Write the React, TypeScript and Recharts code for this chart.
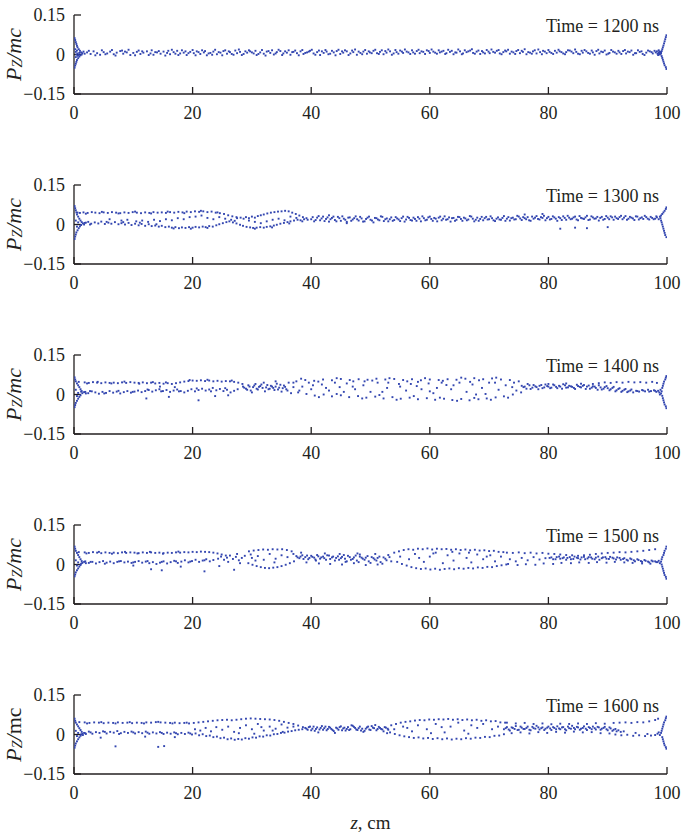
import React from 'react';
import { ScatterChart, Scatter, XAxis, YAxis, Label } from 'recharts';

type Pt = [number, number];

const Z_TICKS = [0, 20, 40, 60, 80, 100];
const P_TICKS = [-0.15, 0, 0.15];
const TIMES = ['1200', '1300', '1400', '1500', '1600'];

// particles, [z (cm), Pz/mc]
const t1200: Pt[] = [
  [0.1, .062], [0.2, .055], [0.3, .047], [0.4, .04], [0.5, .033], [0.6, .027], [0.8, .02], [1, .014], [0.1, -.05], [0.2, -.042], [0.3, -.035], [0.4, -.028], [0.5, -.021], [0.7, -.014], [0.9, -.008], [1.1, -.003], [0.3, .01], [0.6, .004], [1.2, .008], [1.4, .005], [1.6, .011], [1.3, 0], [0.8, -.002], [1.8, .003], [0.2, .02], [0.3, -.01], [0.5, .015], [0.4, 0], [0.6, -.005], [0.9, .006],
  [2.2, .008], [2.8, .002], [3.3, .012], [3.9, .005], [4.4, -.001], [5, .009], [5.6, .004], [6.1, .011], [6.7, .001], [7.2, .007], [7.8, .013], [8.3, .003], [8.9, .008], [9.5, -.002], [10, .006], [10.6, .01], [11.2, .002], [11.7, .007], [12.3, .012], [12.9, .004], [13.4, -.001], [14, .008], [14.6, .003], [15.1, .011], [15.7, .006], [16.2, .001], [16.8, .009], [17.4, .014], [17.9, .004], [18.5, .007], [19, -.002], [19.6, .01],
  [20.2, .005], [20.7, .012], [21.3, .002], [21.9, .008], [22.4, -.003], [23, .006], [23.5, .011], [24.1, .001], [24.7, .007], [25.2, .013], [25.8, .003], [26.3, .009], [26.9, -.001], [27.5, .005], [28, .01], [28.6, .002], [29.2, .007], [29.7, .012], [30.3, .004], [30.8, -.002], [31.4, .008], [32, .003], [32.5, .011], [33.1, .006], [33.7, 0], [34.2, .009], [34.8, .013], [35.3, .004], [35.9, .007], [36.5, -.001], [37, .01], [37.6, .005], [38.2, .012], [38.7, .002], [39.3, .008], [39.8, .014],
  [40.4, .004], [41, .009], [41.5, -.002], [42.1, .006], [42.6, .011], [43.2, .003], [43.8, .008], [44.3, .013], [44.9, .002], [45.4, .007], [46, .012], [46.6, .004], [47.1, .009], [47.7, -.001], [48.3, .006], [48.8, .011], [49.4, .003], [49.9, .008], [50.5, .014], [51.1, .005], [51.6, .01], [52.2, .001], [52.7, .007], [53.3, .012], [53.9, .004], [54.4, .009], [55, .015], [55.5, .006], [56.1, .011], [56.7, .002], [57.2, .008], [57.8, .013], [58.3, .005], [58.9, .01], [59.5, .016],
  [60, .006], [60.6, .011], [61.2, .003], [61.7, .008], [62.3, .014], [62.8, .005], [63.4, .01], [64, .001], [64.5, .007], [65.1, .012], [65.6, .004], [66.2, .009], [66.8, .015], [67.3, .006], [67.9, .011], [68.5, .002], [69, .008], [69.6, .017], [70.1, .005], [70.7, .01], [71.3, .014], [71.8, .004], [72.4, .009], [72.9, .012], [73.5, .003], [74.1, .008], [74.6, .013], [75.2, .005], [75.7, .01], [76.3, .001], [76.9, .007], [77.4, .012], [78, .004], [78.6, .009], [79.1, .014], [79.7, .005],
  [80.2, .01], [80.8, .002], [81.4, .007], [81.9, .012], [82.5, .004], [83, .009], [83.6, .015], [84.2, .005], [84.7, .01], [85.3, .001], [85.8, .007], [86.4, .012], [87, .003], [87.5, .008], [88.1, .013], [88.6, .004], [89.2, .009], [89.8, 0], [90.3, .006], [90.9, .011], [91.5, .003], [92, .008], [92.6, .013], [93.1, .004], [93.7, .009], [94.3, -.001], [94.8, .005], [95.4, .01], [95.9, .002], [96.5, .007], [97.1, .012], [97.6, .004], [98.1, .008],
  [98.4, .003], [98.6, .006], [98.8, 0], [98.9, .009], [99, .004], [99.1, .013], [99.2, .02], [99.3, .027], [99.4, .034], [99.5, .042], [99.6, .05], [99.7, .058], [99.8, .066], [99.9, .073], [99.1, -.006], [99.2, -.013], [99.3, -.02], [99.4, -.027], [99.5, -.034], [99.6, -.041], [99.8, -.048], [99.9, -.055], [98.7, .011], [98.5, -.002],
];
const t1200more: Pt[] = [
  [2.5, .014], [3.6, -.003], [4.7, .016], [5.3, .001], [6.4, .017], [7, -.004], [8.1, .015], [8.6, .011], [9.2, .018], [10.3, -.003], [10.9, .015], [11.5, .012], [12.6, -.002], [13.1, .016], [13.7, .009], [14.3, .013], [15.4, -.004], [15.9, .014], [16.5, .018], [17.1, .003], [17.6, -.002], [18.2, .016], [18.8, .012], [19.3, .005],
  [20, .017], [20.5, -.003], [21, .009], [21.6, .016], [22.1, .013], [22.7, .004], [23.3, -.001], [23.8, .018], [24.4, .009], [25, -.003], [25.5, .016], [26.1, .012], [26.6, .002], [27.2, .015], [27.8, .019], [28.3, -.002], [28.9, .012], [29.5, .016], [30, .008], [30.6, .014], [31.1, .002], [31.7, .017], [32.3, -.004], [32.8, .013], [33.4, .016], [34, .004], [34.5, .018], [35.1, -.002], [35.6, .012], [36.2, .016], [36.8, .009], [37.3, .015], [37.9, -.003], [38.5, .017], [39, .006], [39.6, .011],
  [40.1, .018], [40.7, -.001], [41.3, .015], [41.8, .012], [42.4, .017], [42.9, .001], [43.5, .014], [44.1, -.003], [44.6, .018], [45.2, .012], [45.7, .016], [46.3, -.002], [46.9, .015], [47.4, .019], [48, .011], [48.6, .001], [49.1, .017], [49.7, .012], [50.2, .005], [50.8, .018], [51.4, .002], [51.9, .016], [52.5, .013], [53, .019], [53.6, -.001], [54.2, .017], [54.7, .003], [55.3, .011], [55.8, .019], [56.4, .008], [57, .016], [57.5, .003], [58.1, .018], [58.6, .012], [59.2, .002], [59.8, .013],
  [60.3, .019], [60.9, .007], [61.5, .016], [62, .011], [62.6, .002], [63.1, .018], [63.7, .014], [64.3, .008], [64.8, .019], [65.4, .001], [65.9, .016], [66.5, .012], [67.1, .02], [67.6, .003], [68.2, .015], [68.8, .013], [69.3, .004], [69.9, .011], [70.4, .019], [71, .007], [71.6, .017], [72.1, .001], [72.7, .015], [73.2, .018], [73.8, .011], [74.4, .002], [74.9, .017], [75.5, .014], [76, .02], [76.6, .009], [77.2, .003], [77.7, .016], [78.3, .019], [78.9, .001], [79.4, .011],
  [80, .017], [80.5, .006], [81.1, .014], [81.7, .018], [82.2, .009], [82.8, .001], [83.3, .016], [83.9, .011], [84.5, .019], [85, .003], [85.6, .014], [86.1, .017], [86.7, .006], [87.3, .015], [87.8, -.001], [88.4, .018], [88.9, .011], [89.5, .015], [90.1, .003], [90.6, .017], [91.2, .008], [91.8, .014], [92.3, .002], [92.9, .017], [93.4, .011], [94, .015], [94.6, .005], [95.1, .016], [95.7, .012], [96.2, -.002], [96.8, .015], [97.4, .009], [97.9, .014], [98.3, .012], [98.6, .016], [98.9, .004], [99, .009], [98.8, .007], [98.7, .002],
];

const t1300: Pt[] = [
  [0.1, .07], [0.2, .062], [0.3, .054], [0.4, .046], [0.5, .038], [0.7, .03], [0.9, .022], [1.1, .015], [1.3, .009], [0.1, -.055], [0.2, -.046], [0.3, -.038], [0.4, -.03], [0.6, -.022], [0.8, -.014], [1, -.007], [1.2, -.002], [1.5, .004], [1.7, 0], [2, .007], [0.6, .045], [1, .044], [0.3, .015], [0.5, -.008], [0.7, .008],
  [1.6, .046], [2.3, .044], [3, .047], [3.6, .045], [4.3, .043], [5, .046], [5.7, .044], [6.4, .047], [7.1, .045], [7.8, .043], [8.5, .046], [9.2, .044], [9.9, .047], [10.6, .045], [11.3, .043], [12, .046], [12.7, .044], [13.4, .047], [14.1, .045], [14.8, .046], [15.5, .044], [16.2, .047], [16.9, .045], [17.6, .048], [18.3, .046], [19, .049], [19.7, .047], [20.4, .05], [21.1, .048], [21.8, .05], [22.5, .047], [23.2, .049], [23.9, .045], [24.6, .043], [25.3, .04], [26, .035], [26.7, .031], [27.4, .028], [28.1, .026],
  [28.6, .022], [29, .028], [29.5, .024], [30, .03], [30.5, .026], [31, .032], [31.5, .035], [32, .038], [32.6, .042], [33.2, .045], [33.8, .047], [34.4, .049], [35, .05], [35.6, .052], [36.2, .05], [36.8, .045], [37.4, .04], [38, .034], [38.6, .028], [39.2, .024],
  [1.8, .006], [2.4, .01], [2.9, .003], [3.5, .008], [4.1, .004], [4.6, .011], [5.2, .002], [5.8, .007], [6.3, .003], [6.9, .009], [7.5, .001], [8, .005], [8.6, 0], [9.2, .006], [9.7, -.002], [10.3, .003], [10.9, -.003], [11.4, .002], [12, -.005], [12.6, .001], [13.1, -.006], [13.7, -.004], [14.3, -.008], [14.8, -.005], [15.4, -.01], [16, -.008], [16.5, -.012], [17.1, -.01], [17.7, -.014], [18.2, -.011], [18.8, -.013], [19.4, -.01], [20, -.012], [20.5, -.009], [21.1, -.011], [21.7, -.008], [22.2, -.01], [22.8, -.006], [23.4, -.008], [24, -.003], [24.5, .001], [25.1, .005], [25.7, .009], [26.2, .012], [26.8, .008], [27.4, .004], [28, -.001], [28.5, -.005], [29.1, -.009], [29.7, -.011], [30.2, -.013], [30.8, -.012], [31.4, -.01], [32, -.012], [32.5, -.009], [33.1, -.007], [33.7, -.004], [34.2, -.001], [34.8, .003], [35.4, .006], [36, .009], [36.5, .012], [37.1, .015], [37.7, .018], [38.2, .016], [38.8, .02], [39.4, .018],
  [10.5, .012], [11.5, .015], [12.5, .01], [13.5, .018], [14.5, .013], [15.5, .02], [16.5, .016], [17.5, .024], [18.5, .02], [19.5, .028], [20.5, .03], [21.5, .034], [22.5, .025], [23.5, .02], [24.5, .028], [25.5, .022], [26.5, .018], [27.5, .024], [29.5, .015], [30.5, .01], [31.5, .005], [32.5, .012], [33.5, .018], [34.5, .022], [35.5, .016], [36.5, .03], [37.5, .025],
  [40, .02], [40.5, .012], [41, .026], [41.5, .016], [42, .03], [42.5, .021], [43, .011], [43.5, .025], [44, .017], [44.5, .029], [45, .014], [45.5, .022], [46, .01], [46.5, .027], [47, .019], [47.5, .031], [48, .015], [48.5, .023], [49, .012], [49.5, .026], [50, .018], [50.5, .008], [51, .024], [51.5, .016], [52, .029], [52.5, .02], [53, .012], [53.5, .027], [54, .017], [54.5, .023], [55, .013], [55.5, .03], [56, .019], [56.5, .025], [57, .015], [57.5, .021], [58, .028], [58.5, .012], [59, .024], [59.5, .018],
  [60, .03], [60.5, .014], [61, .022], [61.5, .026], [62, .016], [62.5, .031], [63, .02], [63.5, .011], [64, .025], [64.5, .018], [65, .028], [65.5, .014], [66, .023], [66.5, .019], [67, .03], [67.5, .012], [68, .026], [68.5, .021], [69, .016], [69.5, .029], [70, .02], [70.5, .024], [71, .013], [71.5, .027], [72, .018], [72.5, .032], [73, .022], [73.5, .015], [74, .026], [74.5, .02], [75, .03], [75.5, .017], [76, .024], [76.5, .028], [77, .014], [77.5, .022], [78, .032], [78.5, .019], [79, .025], [79.5, .016],
  [80, .029], [80.5, .021], [81, .027], [81.5, .014], [82, .024], [82.5, .031], [83, .018], [83.5, .026], [84, .022], [84.5, .03], [85, .016], [85.5, .025], [86, .021], [86.5, .033], [87, .019], [87.5, .027], [88, .023], [88.5, .015], [89, .029], [89.5, .021], [90, .026], [90.5, .031], [91, .018], [91.5, .024], [92, .028], [92.5, .02], [93, .032], [93.5, .022], [94, .026], [94.5, .017], [95, .03], [95.5, .024], [96, .021], [96.5, .028], [97, .019], [97.5, .025], [98, .022],
  [82, -.016], [84.5, -.012], [86.5, -.014], [90, -.01], [76, .038], [79, .04], [46, .005], [43, .035],
  [98.3, .027], [98.6, .02], [98.8, .03], [99, .034], [99.2, .04], [99.4, .046], [99.6, .052], [99.8, .059], [99.9, .065], [99, .015], [99.1, .008], [99.2, 0], [99.3, -.008], [99.4, -.016], [99.5, -.024], [99.6, -.032], [99.7, -.04], [99.9, -.048], [98.9, .024],
];
const t1300more: Pt[] = [
  [2, .041], [4.7, .048], [7.5, .042], [10.3, .049], [13, .042], [15.8, .049], [18.6, .043], [21.4, .052], [24.2, .046], [2.7, 0], [5.5, .01], [8.3, .009], [11.1, .007], [13.9, .001], [16.8, -.015], [19.7, -.016], [22.5, -.013], [27.1, .014], [30.5, -.016], [33.4, -.011], [36.3, .004], [38.5, .012], [6, .02], [8, .015], [9, .018],
  [40.25, .028], [40.75, .017], [41.25, .032], [41.75, .023], [42.25, .013], [42.75, .027], [43.25, .02], [43.75, .03], [44.25, .012], [44.75, .024], [45.25, .031], [45.75, .018], [46.25, .026], [46.75, .014], [47.25, .024], [47.75, .02], [48.25, .029], [48.75, .011], [49.25, .021], [49.75, .03], [50.25, .015], [50.75, .025], [51.25, .019], [51.75, .031], [52.25, .013], [52.75, .023], [53.25, .02], [53.75, .014], [54.25, .028], [54.75, .019], [55.25, .024], [55.75, .011], [56.25, .029], [56.75, .017], [57.25, .026], [57.75, .014], [58.25, .022], [58.75, .031], [59.25, .016], [59.75, .027],
  [60.25, .021], [60.75, .025], [61.25, .012], [61.75, .03], [62.25, .022], [62.75, .018], [63.25, .027], [63.75, .024], [64.25, .014], [64.75, .029], [65.25, .021], [65.75, .026], [66.25, .016], [66.75, .032], [67.25, .022], [67.75, .018], [68.25, .014], [68.75, .029], [69.25, .024], [69.75, .019], [70.25, .031], [70.75, .016], [71.25, .022], [71.75, .019], [72.25, .025], [72.75, .014], [73.25, .028], [73.75, .024], [74.25, .019], [74.75, .033], [75.25, .023], [75.75, .028], [76.25, .02], [76.75, .016], [77.25, .03], [77.75, .026], [78.25, .021], [78.75, .028], [79.25, .033], [79.75, .024],
  [80.25, .019], [80.75, .031], [81.25, .022], [81.75, .028], [82.25, .017], [82.75, .025], [83.25, .033], [83.75, .02], [84.25, .027], [84.75, .019], [85.25, .032], [85.75, .023], [86.25, .027], [86.75, .017], [87.25, .031], [87.75, .022], [88.25, .029], [88.75, .025], [89.25, .018], [89.75, .032], [90.25, .02], [90.75, .027], [91.25, .03], [91.75, .021], [92.25, .033], [92.75, .026], [93.25, .018], [93.75, .029], [94.25, .023], [94.75, .031], [95.25, .019], [95.75, .027], [96.25, .033], [96.75, .022], [97.25, .029], [97.75, .02], [98.2, .031],
];

const t1400: Pt[] = [
  [0.1, .065], [0.2, .057], [0.3, .05], [0.5, .042], [0.7, .035], [0.9, .028], [1.1, .02], [1.3, .013], [0.1, -.048], [0.2, -.04], [0.3, -.032], [0.5, -.024], [0.7, -.016], [0.9, -.009], [1.1, -.003], [1.4, .005], [1.7, .009], [1.2, .011], [2, .004], [0.8, .048], [0.3, .018], [0.5, -.006], [0.7, .006],
  [1.8, .046], [2.5, .044], [3.2, .047], [3.9, .045], [4.6, .043], [5.3, .046], [6, .044], [6.7, .045], [7.4, .043], [8.1, .046], [8.8, .044], [9.5, .047], [10.2, .045], [10.9, .044], [11.6, .046], [12.3, .043], [13, .045], [13.7, .042], [14.4, .044], [15.1, .041], [15.8, .043], [16.5, .04], [17.2, .043], [17.9, .046], [18.6, .049], [19.3, .051], [20, .053], [20.7, .052], [21.4, .054], [22.1, .051], [22.8, .053], [23.5, .05], [24.2, .052], [24.9, .049], [25.6, .051], [26.3, .05], [27, .048], [27.7, .045], [28.4, .04],
  [1.9, .01], [2.4, .005], [3, .012], [3.6, .008], [4.2, .003], [4.8, .01], [5.4, .006], [6, .013], [6.6, .007], [7.2, .011], [7.8, .004], [8.4, .009], [9, .013], [9.6, .007], [10.2, .011], [10.8, .015], [11.4, .009], [12, .013], [12.6, .017], [13.2, .011], [13.8, .016], [14.4, .02], [15, .013], [15.6, .017], [16.2, .01], [16.8, .015], [17.4, .019], [18, .013], [18.6, .008], [19.2, .014], [19.8, .02], [20.4, .012], [21, .017], [21.6, .022], [22.2, .015], [22.8, .019], [23.4, .025], [24, .016], [24.6, .021], [25.2, .013], [25.8, .018], [26.4, .008], [27, .014], [27.6, .02],
  [12.2, -.015], [16, -.009], [21, -.022], [23.8, -.006], [26, -.003], [14.5, .03], [17, .028],
  [28.5, .03], [29, .022], [29.4, .035], [29.8, .015], [30.2, .028], [30.6, .04], [31, .019], [31.4, .032], [31.8, .025], [32.2, .012], [32.6, .036], [33, .022], [33.4, .03], [33.8, .017], [34.2, .041], [34.6, .026], [35, .011], [35.4, .034], [35.8, .02], [36.2, .045], [36.6, .005], [37, .028], [32, .045], [34, .05], [30, .008],
  [37.5, .05], [39, .055], [40.5, .052], [42, .057], [43.5, .054], [45, .059], [46.5, .055], [48, .058], [49.5, .056], [51, .06], [52.5, .057], [54, .059], [55.5, .055], [57, .058], [58.5, .054], [60, .057], [61.5, .055], [63, .058], [64.5, .056], [66, .06], [67.5, .062], [69, .058], [70.5, .061], [72, .057], [73.5, .055], [75, .05], [38.3, .06], [41.2, .049], [44.3, .062], [47.1, .05], [50.3, .053], [53.2, .062], [56.2, .05], [59.2, .062], [62.2, .052], [65.3, .064], [68.3, .054], [71.2, .064], [74.2, .045],
  [37.8, .008], [39.2, .002], [40.6, -.004], [42.1, 0], [43.5, -.007], [45, -.003], [46.4, -.01], [47.9, -.006], [49.3, -.012], [50.8, -.008], [52.2, -.015], [53.7, -.01], [55.1, -.016], [56.6, -.012], [58, -.018], [59.5, -.014], [60.9, -.02], [62.4, -.016], [63.8, -.021], [65.3, -.017], [66.7, -.022], [68.2, -.018], [69.6, -.015], [71.1, -.011], [72.5, -.007], [74, 0], [75.4, .008], [41.3, -.01], [44.3, .002], [48.6, -.015], [51.5, -.002], [54.4, -.02], [57.3, -.006], [61.7, -.012], [64.6, -.024], [67.5, -.013], [70.3, -.02], [73.2, -.012],
  [38.5, .03], [40, .02], [41.8, .038], [43, .015], [44.8, .028], [46, .042], [47.4, .02], [48.8, .035], [50, .01], [51.2, .045], [52.8, .025], [54.8, .04], [56, .015], [57.8, .032], [59.8, .042], [60.6, .005], [62.8, .036], [63.6, .02], [65, .045], [66.2, .01], [67.2, .038], [68.8, .025], [70, .045], [71.6, .018], [72.8, .035], [73.9, .028], [69.4, .002], [58.6, .02], [45.5, .01], [39.6, .045],
  [75.8, .028], [76.3, .022], [76.8, .035], [77.3, .026], [77.8, .031], [78.3, .02], [78.8, .036], [79.3, .027], [79.8, .032], [80.3, .024], [80.8, .038], [81.3, .029], [81.8, .033], [82.3, .022], [82.8, .035], [83.3, .027], [83.8, .031], [84.3, .025], [84.8, .037], [85.3, .029], [85.8, .033], [86.3, .021], [86.8, .034], [87.3, .026], [87.8, .03], [88.3, .018], [88.8, .027], [89.3, .022], [89.8, .032], [90.3, .016], [90.8, .025], [91.3, .012], [91.8, .021], [92.3, .01], [92.8, .018], [93.3, .009], [93.8, .015], [94.3, .008], [94.8, .014], [95.3, .011], [95.8, .017], [96.3, .012], [96.8, .018], [97.3, .013], [97.8, .016], [98.2, .01],
  [87.5, .04], [88.5, .043], [89.5, .046], [90.5, .044], [91.5, .047], [92.5, .045], [93.5, .048], [94.5, .046], [95.5, .047], [96.5, .045], [97.5, .048], [98.3, .044], [80, .04], [83, .042], [85.5, .041],
  [98.5, .014], [98.7, .008], [98.9, .018], [99, .004], [99.1, .012], [99.2, .025], [99.3, .033], [99.4, .041], [99.5, .049], [99.7, .057], [99.8, .064], [99.9, .07], [99.2, -.005], [99.3, -.014], [99.4, -.022], [99.5, -.03], [99.6, -.038], [99.8, -.045], [99.9, -.052], [98.8, 0],
];
const t1400more: Pt[] = [
  [75.5, .033], [76, .03], [76.5, .04], [77, .021], [77.5, .036], [78, .028], [78.5, .033], [79, .024], [79.5, .038], [80, .03], [80.5, .026], [81, .035], [81.5, .024], [82, .03], [82.5, .039], [83, .026], [83.5, .033], [84, .029], [84.5, .021], [85, .032], [85.5, .027], [86, .036], [86.5, .03], [87, .022], [87.5, .031], [88, .025], [88.5, .035], [89, .019], [89.5, .028], [90, .024], [90.5, .02], [91, .029], [91.5, .016], [92, .024], [92.5, .014], [93, .021], [93.5, .012], [94, .019], [95, .013], [96, .015], [97, .011], [98, .014],
  [28.7, .026], [29.2, .018], [29.6, .03], [30.4, .034], [30.8, .022], [31.2, .029], [31.6, .038], [32.4, .027], [32.8, .02], [33.2, .033], [33.6, .025], [34, .03], [34.4, .019], [34.8, .037], [35.2, .024], [35.6, .029], [36, .015],
  [37, .045], [38, .015], [42.5, .025], [44, .045], [47, .03], [49, .05], [53, .045], [56.8, .04], [61.2, .025], [64, .035], [66.8, .048], [71, .045], [58, .048], [74.6, .015], [40.3, .035], [52, .01], [55, .03], [67.8, 0], [60, .012], [62, .045],
  [2.2, .042], [4, .048], [6.3, .042], [8.5, .049], [11, .041], [13.3, .047], [15.5, .046], [2.7, .013], [5.1, .004], [7.5, .014], [9.9, .01], [12.4, .019], [14.7, .012], [17.7, .012], [20.7, .023], [23.1, .012], [25.5, .024], [19.5, .055], [22.5, .056], [26.6, .053],
];

const t1500: Pt[] = [
  [0.1, .068], [0.2, .06], [0.3, .052], [0.5, .044], [0.7, .036], [0.9, .028], [1.1, .02], [1.3, .013], [0.1, -.045], [0.2, -.038], [0.3, -.03], [0.5, -.022], [0.7, -.015], [0.9, -.008], [1.1, -.002], [1.4, .006], [1.7, .01], [1.2, .003], [2, .005], [0.8, .047], [0.3, .016], [0.5, -.004], [0.7, .008],
  [1.8, .046], [2.5, .044], [3.2, .047], [3.9, .045], [4.6, .043], [5.3, .046], [6, .044], [6.7, .045], [7.4, .043], [8.1, .046], [8.8, .044], [9.5, .046], [10.2, .045], [10.9, .043], [11.6, .046], [12.3, .044], [13, .046], [13.7, .044], [14.4, .045], [15.1, .043], [15.8, .045], [16.5, .044], [17.2, .046], [17.9, .045], [18.6, .047], [19.3, .046], [20, .048], [20.7, .047], [21.4, .049], [22.1, .048], [22.8, .047], [23.5, .045], [24.2, .042], [24.9, .038], [25.6, .034],
  [1.9, .012], [2.5, .006], [3.1, .01], [3.7, .004], [4.3, .009], [4.9, .013], [5.5, .007], [6.1, .011], [6.7, .005], [7.3, .01], [7.9, .013], [8.5, .008], [9.1, .011], [9.7, .006], [10.3, .01], [10.9, .013], [11.5, .007], [12.1, .011], [12.7, .005], [13.3, .009], [13.9, .002], [14.5, .007], [15.1, .012], [15.7, .004], [16.3, .009], [16.9, .014], [17.5, .006], [18.1, .011], [18.7, .016], [19.3, .008], [19.9, .013], [20.5, .018], [21.1, .01], [21.7, .015], [22.3, .02], [22.9, .012], [23.5, .017],
  [13, -.018], [14.8, -.022], [18, -.008], [22, -.026], [27, -.02], [10, -.004], [24.5, -.006],
  [24.3, .022], [24.8, .03], [25.3, .018], [25.8, .026], [26.3, .034], [26.8, .021], [27.3, .029], [27.8, .016], [28.3, .025], [28.8, .033], [26, .01], [27.5, .04], [28, .005],
  [29.5, .05], [30.3, .053], [31.1, .055], [31.9, .057], [32.7, .056], [33.5, .058], [34.3, .057], [35.1, .058], [35.9, .055], [36.7, .05], [29.4, .005], [30.1, -.001], [30.8, -.006], [31.5, -.01], [32.2, -.013], [32.9, -.014], [33.6, -.012], [34.3, -.01], [35, -.006], [35.7, -.001], [36.4, .005], [37.1, .012], [30, .025], [31, .032], [32, .018], [33, .04], [34, .022], [35, .035], [36, .028], [37, .04], [30.6, .015], [33.8, .008], [29.8, .038],
  [37.5, .032], [38, .024], [38.5, .035], [39, .028], [39.5, .02], [40, .033], [40.5, .026], [41, .036], [41.5, .022], [42, .03], [42.5, .018], [43, .034], [43.5, .027], [44, .015], [44.5, .031], [45, .024], [45.5, .036], [46, .012], [46.5, .028], [47, .021], [47.5, .034], [48, .009], [48.5, .026], [49, .018], [49.5, .032], [50, .006], [50.5, .024], [51, .015], [51.5, .03], [52, .003], [52.5, .022], [53, .036], [53.5, .012], [54, .045], [39.2, .008], [41.3, .004], [43.2, .002], [45.2, 0], [47.2, .005], [49.2, -.002], [51.2, 0], [38.3, .045], [42.3, .042], [44.8, .04], [47.8, .042], [50.8, .04], [40.8, .015], [45.8, .01], [48.2, .038],
  [54.8, .05], [55.6, .055], [56.4, .058], [57.2, .056], [58, .06], [58.8, .058], [59.6, .061], [60.4, .057], [61.2, .06], [62, .058], [62.8, .059], [63.6, .056], [64.4, .058], [65.2, .055], [66, .057], [66.8, .054], [67.6, .056], [68.4, .053], [69.2, .054], [70, .051], [70.8, .052], [71.6, .048], [72.4, .047],
  [54.5, .01], [55.3, .002], [56.1, -.004], [56.9, -.01], [57.7, -.014], [58.5, -.017], [59.3, -.015], [60.1, -.019], [60.9, -.016], [61.7, -.02], [62.5, -.017], [63.3, -.015], [64.1, -.018], [64.9, -.014], [65.7, -.016], [66.5, -.013], [67.3, -.015], [68.1, -.011], [68.9, -.013], [69.7, -.009], [70.5, -.01], [71.3, -.006], [72.1, -.003], [72.9, 0],
  [55, .03], [56.5, .02], [57.5, .04], [59, .01], [60, .03], [61, .045], [62.2, .005], [63, .035], [64, .015], [65, .042], [66.2, .025], [67, .008], [68, .038], [69, .02], [70.2, .035], [71, .012], [72, .03], [58.2, .025], [60.6, .042], [63.8, .048], [66.6, .045], [69.6, .03],
  [73, .045], [74, .044], [75, .046], [76, .043], [77, .045], [78, .042], [79, .044], [80, .041], [81, .04], [82, .038], [83, .036], [84, .035], [85, .033], [86, .035], [87, .037], [88, .04], [89, .042], [90, .044], [91, .045], [92, .047], [93, .046], [94, .048], [95, .05], [96, .052], [97, .055], [98, .058],
  [73.5, .02], [74.5, .012], [75.5, .025], [76.5, .016], [77.5, .028], [78.5, .019], [79.5, .024], [80.5, .027], [81.2, .02], [81.8, .03], [82.4, .024], [83, .018], [83.6, .028], [84.2, .021], [84.8, .026], [85.4, .019], [86, .029], [86.6, .023], [87.2, .027], [87.8, .02], [88.4, .03], [89, .024], [89.6, .028], [90.2, .021], [90.8, .026], [91.4, .019], [92, .025], [92.6, .021], [93.2, .018], [93.8, .023], [94.4, .016], [95, .02], [95.6, .013], [96.2, .017], [96.8, .011], [97.4, .015], [98, .012],
  [73.2, .002], [74.8, -.002], [76.2, .001], [77.8, -.001], [79.2, .004], [80.8, .002], [82.2, .006], [83.8, .005], [85.2, .008], [86.8, .006], [88.2, .009], [89.8, .007], [91.2, .01], [92.8, .008], [94.2, .006], [95.8, .004], [97.2, .003],
  [98.4, .009], [98.6, .014], [98.8, .005], [99, .011], [99.1, .02], [99.2, .028], [99.4, .036], [99.5, .044], [99.6, .052], [99.8, .06], [99.9, .068], [99.1, 0], [99.2, -.008], [99.3, -.016], [99.4, -.024], [99.5, -.032], [99.6, -.04], [99.8, -.047], [99.9, -.054],
];
const t1500more: Pt[] = [
  [37.7, .027], [38.2, .03], [38.7, .021], [39.3, .034], [39.7, .025], [40.2, .029], [40.7, .019], [41.2, .031], [41.7, .027], [42.2, .024], [42.7, .035], [43.2, .021], [43.7, .03], [44.2, .025], [44.7, .018], [45.2, .029], [45.7, .022], [46.2, .033], [46.7, .018], [47.2, .027], [47.7, .015], [48.2, .03], [48.7, .022], [49.2, .026], [49.7, .012], [50.2, .028], [50.7, .019], [51.2, .025], [51.7, .009], [52.2, .027], [52.7, .016], [53.2, .028],
  [80.2, .025], [80.8, .02], [81.4, .028], [82, .022], [82.6, .027], [83.2, .025], [83.8, .02], [84.4, .03], [85, .024], [85.6, .027], [86.2, .02], [86.8, .028], [87.4, .022], [88, .026], [88.6, .018], [89.2, .027], [89.8, .022], [90.4, .029], [91, .023], [91.6, .027], [92.2, .018], [92.8, .024], [93.4, .015], [94, .02], [94.6, .012], [95.2, .017], [95.8, .01], [96.4, .014], [97, .008], [97.6, .012], [98.2, .009],
  [2.1, .042], [4.2, .048], [6.4, .041], [8.6, .048], [10.7, .042], [12.8, .048], [15, .041], [17.6, .049], [2.8, .01], [5.2, .003], [7.6, .012], [10, .008], [12.4, .013], [14.8, .01], [17.2, .012], [19.6, .011], [22, .016],
];

const t1600: Pt[] = [
  [0.1, .06], [0.2, .052], [0.3, .045], [0.5, .038], [0.7, .031], [0.9, .024], [1.1, .017], [1.3, .01], [0.1, -.05], [0.2, -.042], [0.3, -.034], [0.5, -.026], [0.7, -.018], [0.9, -.011], [1.1, -.005], [1.4, .003], [1.7, .006], [1.2, 0], [2, .002], [0.9, .047], [1.5, -.002], [0.3, .014], [0.5, -.006], [0.7, .006],
  [1.8, .046], [2.6, .044], [3.4, .046], [4.2, .045], [5, .043], [5.8, .045], [6.6, .044], [7.4, .046], [8.2, .044], [9, .045], [9.8, .043], [10.6, .045], [11.4, .044], [12.2, .046], [13, .045], [13.8, .047], [14.6, .046], [15.4, .045], [16.2, .044], [17, .045], [17.8, .043], [18.6, .044], [19.4, .042], [20.2, .044], [21, .046], [21.8, .048], [22.6, .05], [23.4, .052], [24.2, .054], [25, .055], [25.8, .056], [26.6, .054], [27.4, .056], [28.2, .058], [29, .06], [29.8, .061], [30.6, .06], [31.4, .059], [32.2, .058], [33, .057], [33.8, .055], [34.6, .052], [35.4, .048], [36.2, .044], [37, .04], [37.8, .034], [38.6, .028],
  [1.9, .005], [2.5, .011], [3.1, .003], [3.7, .009], [4.3, .006], [4.9, .012], [5.5, .004], [6.1, .01], [6.7, .007], [7.3, .013], [7.9, .005], [8.5, .01], [9.1, .006], [9.7, .011], [10.3, .004], [10.9, .009], [11.5, .005], [12.1, .011], [12.7, .003], [13.3, .008], [13.9, .004], [14.5, .009], [15.1, .002], [15.7, .007], [16.3, .003], [16.9, .008], [17.5, .001], [18.1, .006], [18.7, .002], [19.3, .007], [19.9, 0], [20.5, .004], [21.1, -.003], [21.7, .001], [22.3, -.006], [22.9, -.004], [23.5, -.01], [24.1, -.008], [24.7, -.014], [25.3, -.012], [25.9, -.018], [26.5, -.015], [27.1, -.02], [27.7, -.017], [28.3, -.019], [28.9, -.014], [29.5, -.016], [30.1, -.011], [30.7, -.012], [31.3, -.007], [31.9, -.008], [32.5, -.003], [33.1, -.004], [33.7, .001], [34.3, .002], [34.9, .006], [35.5, .007], [36.1, .011], [36.7, .013], [37.3, .016], [37.9, .018], [38.5, .02],
  [20.4, .02], [21.3, .015], [22.2, .025], [23.1, .012], [24, .028], [25, .018], [26, .03], [27, .01], [28, .025], [29, .035], [30, .02], [31, .04], [32, .015], [33, .03], [34, .022], [35, .038], [36, .026], [37, .03], [27.8, .005], [30.4, .003], [31.6, .028], [33.5, .015], [35.2, .01],
  [7, -.045], [14.2, -.047], [15.2, -.044], [4.5, -.012], [12, -.008], [17, -.01],
  [39, .025], [39.4, .018], [39.8, .03], [40.2, .022], [40.6, .014], [41, .027], [41.4, .019], [41.8, .032], [42.2, .024], [42.6, .016], [43, .029], [43.4, .021], [43.8, .013], [44.2, .026], [44.6, .018], [45, .031], [45.4, .023], [45.8, .015], [46.2, .028], [46.6, .02], [47, .033], [47.4, .025], [47.8, .017], [48.2, .03], [48.6, .022], [49, .014], [49.4, .027], [49.8, .019], [50.2, .032], [50.6, .024], [51, .016], [51.4, .029], [51.8, .021], [52.2, .012], [52.6, .026], [53, .018], [41.2, .008], [44, .006], [46.8, .035], [48.8, .01], [50.8, .036], [52.8, .005],
  [53.5, .035], [54.3, .04], [55.1, .045], [55.9, .048], [56.7, .05], [57.5, .053], [58.3, .055], [59.1, .054], [59.9, .057], [60.7, .056], [61.5, .058], [62.3, .057], [63.1, .059], [63.9, .056], [64.7, .058], [65.5, .055], [66.3, .057], [67.1, .054], [67.9, .056], [68.7, .052], [69.5, .054], [70.3, .05], [71.1, .051], [71.9, .046], [72.7, .045],
  [53.3, .008], [54.1, .002], [54.9, -.003], [55.7, -.007], [56.5, -.01], [57.3, -.013], [58.1, -.011], [58.9, -.015], [59.7, -.013], [60.5, -.017], [61.3, -.014], [62.1, -.018], [62.9, -.015], [63.7, -.019], [64.5, -.016], [65.3, -.018], [66.1, -.014], [66.9, -.016], [67.7, -.012], [68.5, -.013], [69.3, -.009], [70.1, -.01], [70.9, -.005], [71.7, -.004], [72.5, .001],
  [54, .02], [55.5, .03], [57, .012], [58, .035], [59.5, .02], [61, .04], [62.5, .008], [63.5, .03], [64.8, .045], [65.8, .015], [67, .035], [68, .025], [69, .04], [70.5, .02], [71.5, .03], [56.2, .025], [60.2, .005], [66.5, .003], [62, .028],
  [72.5, .02], [73, .028], [73.5, .015], [74, .025], [74.5, .032], [75, .018], [75.5, .026], [76, .021], [76.5, .03], [77, .016], [77.5, .024], [78, .033], [78.5, .019], [79, .027], [79.5, .022], [80, .03], [80.5, .017], [81, .025], [81.5, .031], [82, .02], [82.5, .028], [83, .016], [83.5, .024], [84, .033], [84.5, .02], [85, .027], [85.5, .022], [86, .031], [86.5, .017], [87, .025], [87.5, .03], [88, .019], [88.5, .027], [89, .022], [89.5, .029], [90, .016], [90.5, .023], [91, .018], [91.5, .012],
  [73, .045], [74.5, .042], [76, .044], [77.5, .04], [79, .042], [80.5, .039], [82, .041], [83.5, .04], [85, .042], [86.5, .04], [88, .043], [89.5, .041], [91, .044], [92, .045], [93, .046], [94, .044], [95, .047], [96, .046], [97, .05], [98, .055], [98.5, .06],
  [73.8, .005], [75.3, .008], [76.8, .004], [78.3, .009], [79.8, .006], [81.3, .01], [82.8, .007], [84.3, .011], [85.8, .008], [87.3, .009], [88.8, .005], [90.3, .004], [91.3, 0], [92.3, -.003], [93.3, -.001], [94.3, -.005], [95.3, -.003], [96.3, -.006], [97.3, -.004], [98, -.002], [92.7, .012], [94.7, .006], [96.7, .002],
  [98.4, .003], [98.6, .008], [98.8, -.002], [99, .006], [99.1, .014], [99.2, .022], [99.3, .03], [99.4, .038], [99.5, .046], [99.7, .054], [99.8, .062], [99.9, .068], [99.2, -.01], [99.3, -.018], [99.4, -.026], [99.5, -.034], [99.6, -.041], [99.8, -.048], [99.9, -.054],
];
const t1600more: Pt[] = [
  [39.2, .022], [39.6, .028], [40, .016], [40.4, .03], [40.8, .021], [41.6, .025], [42, .018], [42.4, .03], [42.8, .021], [43.2, .026], [43.6, .017], [44.4, .023], [44.8, .028], [45.2, .016], [45.6, .026], [46, .021], [46.4, .017], [47.2, .029], [47.6, .019], [48, .024], [48.4, .015], [49.2, .022], [49.6, .03], [50, .017], [50.4, .026], [51.2, .021], [51.6, .025], [52, .019], [52.4, .028], [52.9, .022],
  [72.8, .024], [73.3, .019], [73.8, .027], [74.3, .021], [74.8, .017], [75.3, .03], [75.8, .021], [76.3, .025], [76.8, .018], [77.3, .029], [77.8, .022], [78.3, .027], [78.8, .024], [79.3, .017], [79.8, .026], [80.3, .023], [80.8, .028], [81.3, .02], [81.8, .023], [82.3, .027], [82.8, .02], [83.3, .03], [83.8, .022], [84.3, .025], [84.8, .029], [85.3, .018], [85.8, .025], [86.3, .022], [86.8, .028], [87.3, .02], [87.8, .024], [88.3, .029], [88.8, .018], [89.3, .025], [89.8, .02], [90.3, .027], [90.8, .014], [91.3, .021], [91.8, .016], [92.2, .01],
  [2.2, .042], [4.6, .047], [7, .042], [9.4, .047], [11.8, .042], [14.2, .048], [16.6, .042], [19, .045], [2.8, .008], [5.2, .01], [7.6, .002], [10, .008], [12.4, .007], [14.8, .006], [17.2, .005], [19.6, .004],
];

const PANELS: Pt[][] = [
  [...t1200, ...t1200more],
  [...t1300, ...t1300more],
  [...t1400, ...t1400more],
  [...t1500, ...t1500more],
  [...t1600, ...t1600more],
];

const FONT = '"Liberation Serif", "Times New Roman", serif';
const INK = '#231f20';
const DOT = '#3346b0';
const PANEL_STEP = 170;

const fmtP = (v: number) => (v === 0 ? '0' : v < 0 ? `\u2212${Math.abs(v)}` : `${v}`);

const Dot = (props: any) => {
  const { cx, cy } = props;
  if (cx == null || cy == null) return null;
  return <rect x={cx - 0.95} y={cy - 0.95} width={1.9} height={1.9} fill={DOT} />;
};

const yLabel = (roman: boolean) => (props: any) => {
  const vb = props.viewBox || { x: 0, y: 15, width: 74, height: 79 };
  const cx = vb.x + 13;
  const cy = vb.y + vb.height / 2;
  return (
    <text
      x={cx}
      y={cy}
      transform={`rotate(-90 ${cx} ${cy})`}
      textAnchor="middle"
      dominantBaseline="central"
      fontFamily={FONT}
      fontSize={22}
      fill={INK}
    >
      <tspan fontStyle="italic">P</tspan>
      <tspan fontStyle="italic" fontSize={14} dy={4}>Z</tspan>
      <tspan dy={-4} fontStyle="italic">/</tspan>
      <tspan fontStyle={roman ? 'normal' : 'italic'}>mc</tspan>
    </text>
  );
};

const axisStroke = { stroke: INK, strokeWidth: 1.3 };

export default function App() {
  return (
    <div style={{ position: 'absolute', left: 0, top: 0, width: 685, height: 837, background: '#fff' }}>
      {PANELS.map((pts, i) => (
        <div key={TIMES[i]} style={{ position: 'absolute', left: 0, top: i * PANEL_STEP, width: 685, height: 125 }}>
          <ScatterChart width={685} height={125} margin={{ top: 15, right: 18, bottom: 6, left: 0 }}>
            <XAxis
              type="number"
              dataKey="z"
              domain={[0, 100]}
              ticks={Z_TICKS}
              interval={0}
              allowDataOverflow
              height={25}
              tickSize={-7}
              tickMargin={19}
              axisLine={axisStroke}
              tickLine={axisStroke}
              tick={{ fill: INK, fontSize: 18, fontFamily: FONT }}
            />
            <YAxis
              type="number"
              dataKey="p"
              domain={[-0.15, 0.15]}
              ticks={P_TICKS}
              interval={0}
              allowDataOverflow
              width={74}
              tickSize={-7}
              tickMargin={16}
              tickFormatter={fmtP}
              axisLine={axisStroke}
              tickLine={axisStroke}
              tick={{ fill: INK, fontSize: 18, fontFamily: FONT }}
            >
              <Label content={yLabel(i === PANELS.length - 1)} />
            </YAxis>
            <Scatter
              data={pts.map(([z, p]) => ({ z, p }))}
              shape={Dot}
              fill={DOT}
              isAnimationActive={false}
            />
          </ScatterChart>
          <div
            style={{
              position: 'absolute',
              right: 26,
              top: 17,
              fontFamily: FONT,
              fontSize: 18,
              lineHeight: '18px',
              color: INK,
              whiteSpace: 'nowrap',
            }}
          >
            Time = {TIMES[i]} ns
          </div>
        </div>
      ))}
      <div
        style={{
          position: 'absolute',
          left: 320,
          width: 101,
          top: 814,
          textAlign: 'center',
          fontFamily: FONT,
          fontSize: 19,
          lineHeight: '18px',
          color: INK,
        }}
      >
        <i>z</i>, cm
      </div>
    </div>
  );
}
